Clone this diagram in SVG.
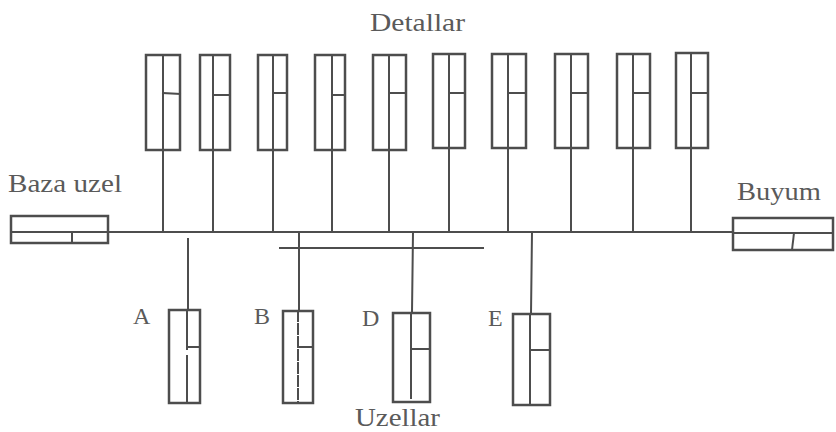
<svg xmlns="http://www.w3.org/2000/svg" width="836" height="432" viewBox="0 0 836 432">
<style>
.ln{stroke:#4d4d4d;stroke-width:2;fill:none;stroke-linecap:square}
.bx{stroke:#4d4d4d;stroke-width:2.5;fill:none}
.tx{font-family:"Liberation Serif","Times New Roman",serif;fill:#5a5a5a}
.lb{font-size:26px}
.sm{font-size:24px}
</style>
<rect width="836" height="432" fill="#ffffff"/>
<text class="tx lb" x="370" y="31" textLength="95" lengthAdjust="spacingAndGlyphs">Detallar</text>
<text class="tx lb" x="8" y="192" textLength="114" lengthAdjust="spacingAndGlyphs">Baza uzel</text>
<text class="tx lb" x="737" y="200" textLength="84" lengthAdjust="spacingAndGlyphs">Buyum</text>
<text class="tx lb" x="355" y="426" textLength="85" lengthAdjust="spacingAndGlyphs">Uzellar</text>
<g id="connectors">
<line class="ln" x1="108" y1="232" x2="733" y2="232"/>
<line class="ln" x1="280" y1="248" x2="483" y2="248"/>
<line class="ln" x1="460" y1="248" x2="483" y2="248" stroke-width="3.5"/>
<line class="ln" x1="163" y1="150" x2="163" y2="232"/>
<line class="ln" x1="213" y1="150" x2="213" y2="232"/>
<line class="ln" x1="273" y1="150" x2="273" y2="232"/>
<line class="ln" x1="332" y1="150" x2="332" y2="232"/>
<line class="ln" x1="389" y1="150" x2="389" y2="232"/>
<line class="ln" x1="449" y1="150" x2="449" y2="232"/>
<line class="ln" x1="508" y1="150" x2="508" y2="232"/>
<line class="ln" x1="571" y1="150" x2="571" y2="232"/>
<line class="ln" x1="633" y1="150" x2="633" y2="232"/>
<line class="ln" x1="691" y1="150" x2="691" y2="232"/>
<line class="ln" x1="188" y1="239" x2="188" y2="310"/>
<line class="ln" x1="299" y1="232" x2="299" y2="311"/>
<line class="ln" x1="413" y1="232" x2="412" y2="313"/>
<line class="ln" x1="532" y1="232" x2="531" y2="314"/>
</g>
<g id="baza-uzel">
<rect class="bx" x="11" y="216" width="97" height="27"/>
<line class="ln" x1="11" y1="232" x2="108" y2="232"/>
<line class="ln" x1="72" y1="232" x2="72" y2="243"/>
</g>
<g id="buyum">
<rect class="bx" x="733" y="218" width="100" height="32"/>
<line class="ln" x1="733" y1="233" x2="833" y2="233"/>
<line class="ln" x1="794" y1="233" x2="792" y2="250"/>
</g>
<g id="detal-1"><rect class="bx" x="146" y="55" width="34" height="95"/><line class="ln" x1="163" y1="55" x2="163" y2="150"/><line class="ln" x1="163" y1="93" x2="180" y2="94"/></g>
<g id="detal-2"><rect class="bx" x="200" y="55" width="30" height="95"/><line class="ln" x1="213" y1="55" x2="213" y2="150"/><line class="ln" x1="213" y1="95" x2="230" y2="95"/></g>
<g id="detal-3"><rect class="bx" x="258" y="55" width="29" height="95"/><line class="ln" x1="273" y1="55" x2="273" y2="150"/><line class="ln" x1="273" y1="93" x2="287" y2="93"/></g>
<g id="detal-4"><rect class="bx" x="315" y="55" width="30" height="95"/><line class="ln" x1="332" y1="55" x2="332" y2="150"/><line class="ln" x1="332" y1="95" x2="345" y2="95"/></g>
<g id="detal-5"><rect class="bx" x="373" y="55" width="33" height="95"/><line class="ln" x1="389" y1="55" x2="389" y2="150"/><line class="ln" x1="389" y1="93" x2="406" y2="93"/></g>
<g id="detal-6"><rect class="bx" x="433" y="54" width="32" height="94"/><line class="ln" x1="449" y1="54" x2="449" y2="148"/><line class="ln" x1="449" y1="93" x2="465" y2="93"/></g>
<g id="detal-7"><rect class="bx" x="492" y="54" width="34" height="94"/><line class="ln" x1="508" y1="54" x2="508" y2="148"/><line class="ln" x1="508" y1="93" x2="526" y2="93"/></g>
<g id="detal-8"><rect class="bx" x="555" y="54" width="33" height="94"/><line class="ln" x1="571" y1="54" x2="571" y2="148"/><line class="ln" x1="571" y1="93" x2="588" y2="93"/></g>
<g id="detal-9"><rect class="bx" x="617" y="54" width="33" height="94"/><line class="ln" x1="633" y1="54" x2="633" y2="148"/><line class="ln" x1="633" y1="93" x2="650" y2="93"/></g>
<g id="detal-10"><rect class="bx" x="676" y="53" width="32" height="95"/><line class="ln" x1="691" y1="53" x2="691" y2="148"/><line class="ln" x1="691" y1="93" x2="708" y2="93"/></g>
<g id="uzel-A">
<text class="tx sm" x="133" y="324">A</text>
<rect class="bx" x="169" y="310" width="31" height="93"/>
<line class="ln" x1="187" y1="310" x2="187" y2="349"/>
<line class="ln" x1="187" y1="356" x2="187" y2="403"/>
<line class="ln" x1="187" y1="347" x2="200" y2="347"/>
</g>
<g id="uzel-B">
<text class="tx sm" x="254" y="324">B</text>
<rect class="bx" x="283" y="311" width="30" height="92"/>
<line class="ln" x1="298" y1="311" x2="298" y2="403" stroke-dasharray="10 3"/>
<line class="ln" x1="298" y1="347" x2="313" y2="347"/>
</g>
<g id="uzel-D">
<text class="tx sm" x="362" y="326">D</text>
<rect class="bx" x="393" y="313" width="37" height="89"/>
<line class="ln" x1="411" y1="313" x2="411" y2="398"/>
<line class="ln" x1="411" y1="349" x2="430" y2="349"/>
</g>
<g id="uzel-E">
<text class="tx sm" x="488" y="326">E</text>
<rect class="bx" x="513" y="314" width="37" height="91"/>
<line class="ln" x1="530" y1="314" x2="530" y2="405"/>
<line class="ln" x1="530" y1="350" x2="550" y2="350"/>
</g>
</svg>
